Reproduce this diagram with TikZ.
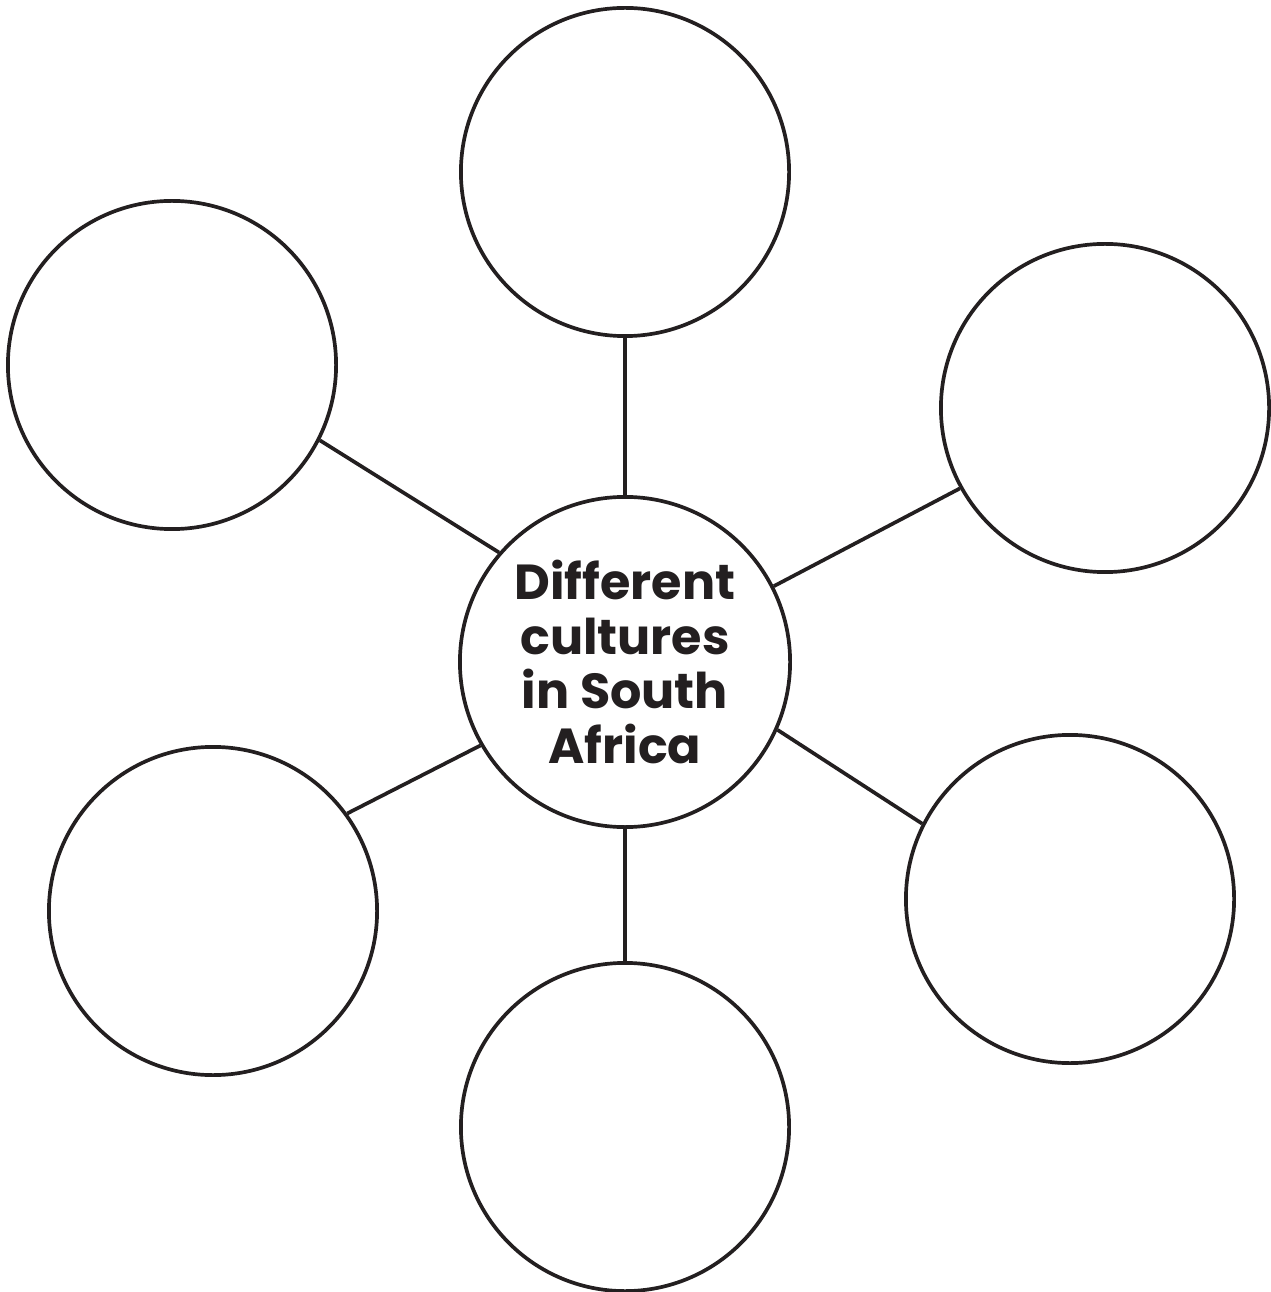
\documentclass[tikz,border=0pt]{standalone}
\usepackage{fontspec}
\setmainfont{Poppins}[BoldFont={* Bold}]
\usepackage{tikz}
\definecolor{ink}{HTML}{231F20}
\tikzset{
  bubble/.style = {circle,draw=ink,line width=1.05pt,minimum size=3.28cm,inner sep=0pt},
  hubtext/.style = {font=\bfseries\fontsize{14}{15.6}\selectfont,text=ink,align=center},
  spoke/.style   = {draw=ink,line width=1.05pt}
}

\begin{document}
\begin{tikzpicture}[x=0.01cm,y=-0.01cm]
  \useasboundingbox (0,0) rectangle (1271,1292);
  % the hub and the six empty bubbles round it
  \node[bubble,minimum size=3.30cm,hubtext] (hub) at (625,662)
    {Different\\cultures\\in South\\Africa};
  \node[bubble] (top)   at (625,172)  {};
  \node[bubble] (upl)   at (172,365)  {};
  \node[bubble] (upr)   at (1105,408) {};
  \node[bubble] (lowl)  at (213,911)  {};
  \node[bubble] (lowr)  at (1070,899) {};
  \node[bubble] (bot)   at (625,1127) {};
  % spokes
  \draw[spoke] (hub.90)   -- (top.-90);
  \draw[spoke] (hub.139)  -- (upl.-27);
  \draw[spoke] (hub.27)   -- (upr.-151);
  \draw[spoke] (hub.210)  -- (lowl.36);
  \draw[spoke] (hub.-24)  -- (lowr.153);
  \draw[spoke] (hub.-90)  -- (bot.90);
\end{tikzpicture}
\end{document}
